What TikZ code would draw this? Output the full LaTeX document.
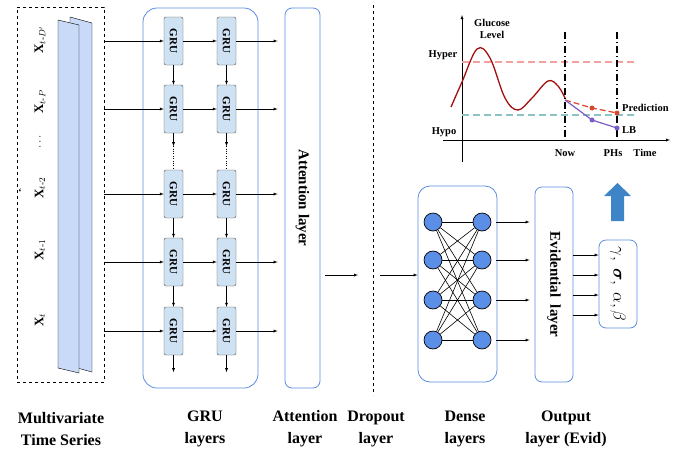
\documentclass[tikz,border=0pt]{standalone}
\usepackage{amsmath}
\usepackage{bm}
\usepackage{fontspec}
\setmainfont{Liberation Serif}

\definecolor{boxblue}{HTML}{5B8DE0}
\definecolor{grublue}{HTML}{CFE2F3}
\definecolor{slabblue}{HTML}{C9DAF8}
\definecolor{neuronblue}{HTML}{5B8EE6}
\definecolor{bigblue}{HTML}{3D85C6}
\definecolor{curvered}{HTML}{A30F0F}
\definecolor{predred}{HTML}{D9472B}
\definecolor{lbpurple}{HTML}{7B5CC8}
\definecolor{hyperpink}{HTML}{F2A0A0}
\definecolor{hypoteal}{HTML}{8CC3C3}

\begin{document}
\begin{tikzpicture}[x=1pt, y=-1pt, >=latex,
  gru/.style={rectangle, rounded corners=2pt, draw=black!70, fill=grublue, minimum width=19pt, minimum height=48pt, inner sep=0pt, font=\bfseries\fontsize{11}{11}\selectfont},
  layerbox/.style={rectangle, rounded corners=7pt, draw=boxblue, line width=0.8pt, inner sep=0pt},
  neuron/.style={circle, draw, line width=0.7pt, fill=neuronblue, minimum size=18pt, inner sep=0pt},
  caption/.style={align=center, font=\bfseries\fontsize{16}{22}\selectfont},
  chartlabel/.style={font=\bfseries\fontsize{10.5}{12}\selectfont, inner sep=1pt},
  serieslabel/.style={rotate=90, font=\fontsize{13}{13}\selectfont, inner sep=0pt}]
\useasboundingbox (0,0) rectangle (684,453);

% input time series
\node (ts) [draw, dashed, minimum width=87pt, minimum height=375pt] at (60.5,194.5) {};
\draw [fill=slabblue] (70,17) -- (92,23) -- (92,372) -- (70,366) -- cycle;
\draw [fill=slabblue] (58,20) -- (79,25) -- (79,373) -- (58,368) -- cycle;
\node (x1) [serieslabel] at (40,40) {$\mathbf{X}_{t\text{-}D'}$};
\node (x2) [serieslabel] at (40,102) {$\mathbf{X}_{t\text{-}P}$};
\node (x3) [serieslabel] at (40,142) {$\ldots$};
\node (x4) [serieslabel] at (40,188) {$\mathbf{X}_{t\text{-}2}$};
\node (x5) [serieslabel] at (40,250) {$\mathbf{X}_{t\text{-}1}$};
\node (x6) [serieslabel] at (40,320) {$\mathbf{X}_{t}$};
\node (tick) [inner sep=0pt, font=\bfseries] at (20,192) {`};

% GRU layers
\node (grubox) [layerbox, rounded corners=14pt, minimum width=115pt, minimum height=380pt] at (200.5,198) {};
\foreach \r/\y in {1/41,2/109,3/194,4/262,5/331}{
  \node (g1\r) [gru] at (173.5,\y) {\rotatebox{-90}{GRU}};
  \node (g2\r) [gru] at (226.5,\y) {\rotatebox{-90}{GRU}};
}
\node (att) [layerbox, minimum width=35pt, minimum height=380pt] at (302.5,198) {\rotatebox{-90}{\bfseries\fontsize{15}{15}\selectfont Attention layer}};

\foreach \r in {1,...,5}{
  \draw [->] (ts.east |- g1\r) -- (g1\r.west);
  \draw [->] (g1\r) -- (g2\r);
  \draw [->, shorten >=7pt] (g2\r) -- (att.west |- g2\r);
}
\foreach \c in {1,2}{
  \draw [->] (g\c1) -- (g\c2);
  \draw [->] (g\c2.south) -- ([yshift=-13pt]g\c2.south) coordinate (d\c);
  \draw [dotted] (d\c) -- (g\c3.north);
  \draw [->] (g\c3) -- (g\c4);
  \draw [->] (g\c4) -- (g\c5);
  \draw [->] (g\c5.south) -- ([yshift=-17pt]g\c5.south);
}

% dropout
\coordinate (drop) at (373,275);
\draw [dashed] (373,5) -- (373,395);

% dense layers
\node (dense) [layerbox, rounded corners=12pt, minimum width=79pt, minimum height=196pt] at (457.5,284) {};
\node (evid) [layerbox, minimum width=38pt, minimum height=195pt] at (554,284.5) {\rotatebox{-90}{\bfseries\fontsize{15}{15}\selectfont Evidential\ \ layer}};
\node (outp) [layerbox, minimum width=38pt, minimum height=88pt] at (618,284) {\rotatebox{-90}{\fontsize{16}{16}\selectfont $\gamma,\ \bm{\sigma},\ \alpha, \beta$}};
\foreach \i/\y in {1/222,2/260,3/300,4/340}{
  \node (a\i) [neuron] at (433,\y) {};
  \node (b\i) [neuron] at (482,\y) {};
}
\foreach \i in {1,...,4}
  \foreach \j in {1,...,4}
    \draw [line width=0.6pt] (a\i) -- (b\j);
\foreach \i in {1,...,4}
  \draw [->, shorten <=5pt, shorten >=5pt] (b\i) -- (evid.west |- b\i);
\foreach \y in {255,275,295,315}
  \draw [->] (evid.east |- 0,\y) -- (outp.west |- 0,\y);

\draw [->, shorten <=5pt, shorten >=15pt] (att.east |- drop) -- (drop);
\draw [->, shorten <=7pt] (drop) -- (dense.west |- drop);

% big arrow to chart
\fill [bigblue] (611,221) -- (611,196) -- (604,196) -- (617.5,183) -- (631,196) -- (624,196) -- (624,221) -- cycle;

% glucose chart
\draw [->] (462,162) -- (462,15);
\draw [->] (443,140) -- (670,140);
\draw [hyperpink, line width=1.4pt, dash pattern=on 7pt off 4pt] (462,62) -- (637,62);
\draw [hypoteal, line width=1.4pt, dash pattern=on 7pt off 4pt] (462,115) -- (637,115);
\draw [line width=1.5pt, dash pattern=on 7pt off 3pt on 1pt off 3pt] (565,32) -- (565,140);
\draw [line width=1.5pt, dash pattern=on 7pt off 3pt on 1pt off 3pt] (617,32) -- (617,140);
\draw [curvered, line width=1.3pt] plot [smooth, tension=0.6] coordinates {(451,107) (462,82) (477,49) (490,58) (505,98) (518,110) (532,98) (548,81) (558,86) (565,98)};
\draw [predred, line width=1.2pt, dash pattern=on 6pt off 3pt] (565,100) -- (592,108) -- (617,113);
\fill [predred] (592,108) circle (2.5pt) (617,113) circle (2.5pt);
\draw [lbpurple, line width=1.2pt] (565,100) -- (592,120) -- (617,128);
\fill [lbpurple] (592,120) circle (2.5pt) (617,128) circle (2.5pt);
\node (glev) [chartlabel, align=center] at (492,29) {Glucose\\Level};
\node (hyper) [chartlabel] at (443,55) {Hyper};
\node (hypo) [chartlabel] at (444,132) {Hypo};
\node (now) [chartlabel] at (565,153) {Now};
\node (phs) [chartlabel] at (613,153) {PHs};
\node (time) [chartlabel] at (645,153) {Time};
\node (pred) [chartlabel, anchor=west] at (621,108) {Prediction};
\node (lb) [chartlabel, anchor=west] at (621,130) {LB};

% captions
\node (c1) [caption] at (61,429) {Multivariate\\Time Series};
\node (c2) [caption] at (205,429) {GRU\\layers};
\node (c3) [caption] at (305,429) {Attention\\layer};
\node (c4) [caption] at (376,429) {Dropout\\layer};
\node (c5) [caption] at (465,429) {Dense\\layers};
\node (c6) [caption] at (566,429) {Output\\layer (Evid)};
\end{tikzpicture}
\end{document}
